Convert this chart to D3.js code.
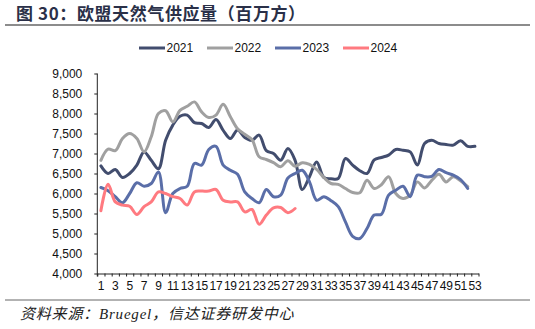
<!DOCTYPE html>
<html>
<head>
<meta charset="utf-8">
<script src="https://cdn.jsdelivr.net/npm/d3@7/dist/d3.min.js"></script>
<style>
  html, body { margin: 0; padding: 0; background: #fff; }
  svg { display: block; }
</style>
</head>
<body>
<svg id="chart" width="535" height="329"></svg>
<script>
// Weekly EU natural gas supply, million cubic metres
const weeks = d3.range(1, 54);
const seriesNames = ["2021", "2022", "2023", "2024"];
const seriesColors = ["#424d6e", "#a0a0a0", "#5a6ea8", "#ff7a80"];

const values2021 = [6690, 6500, 6600, 6400, 6500, 6710, 7040, 6830, 6620, 7330,
  7710, 7930, 7960, 7770, 7750, 7650, 7850, 7580, 7375, 7590,
  7400, 7330, 7460, 7070, 7000, 6830, 7125, 6830, 6100, 6420,
  6790, 6400, 6370, 6375, 6875, 6710, 6570, 6500, 6840, 6900,
  6960, 7100, 7080, 7040, 6710, 7250, 7330, 7250, 7225, 7210,
  7320, 7180, 7180];
const values2022 = [6830, 7110, 7070, 7375, 7500, 7375, 7040, 7420, 8000, 8070,
  7790, 8080, 8180, 8290, 8040, 7900, 7960, 8230, 7920, 7620,
  7480, 7350, 6920, 6850, 6770, 6670, 6820, 6680, 6770, 6730,
  6600, 6400, 6250, 6230, 6125, 6025, 6020, 6330, 6125, 6220,
  6420, 6000, 5875, 5960, 6290, 6140, 6330, 6480, 6290, 6420,
  6320, 6170];
const values2023 = [6150, 6070, 5920, 5770, 6000, 6270, 6180, 6250, 6540, 5520,
  6000, 6125, 6180, 6750, 6710, 7100, 7180, 6710, 6580, 6480,
  6040, 5875, 5770, 6100, 5920, 5960, 6390, 6500, 6580, 6290,
  5830, 5920, 5820, 5670, 5290, 4930, 4875, 5125, 5460, 5480,
  5960, 6080, 6180, 5920, 6460, 6420, 6430, 6600, 6520, 6460,
  6350, 6125];
const values2024 = [5570, 6230, 5790, 5710, 5680, 5475, 5670, 5790, 6040, 6000,
  5920, 5875, 5710, 6040, 6060, 6060, 6100, 5830, 5790, 5790,
  5540, 5600, 5230, 5460, 5640, 5650, 5520, 5625];
const seriesValues = [values2021, values2022, values2023, values2024];

const yTicks = [4000, 4500, 5000, 5500, 6000, 6500, 7000, 7500, 8000, 8500, 9000];
const xLabels = weeks.filter(w => w % 2 === 1);

const titleText = "图 30：欧盟天然气供应量（百万方）";
const sourceText = "资料来源：Bruegel，信达证券研发中心";

const svg = d3.select("#chart");
const plot = { left: 97.3, right: 478.5, top: 73.5, bottom: 273.5 };

const x = d3.scaleBand().domain(weeks).range([plot.left, plot.right]).padding(0);
const xEdges = d3.scaleLinear().domain([0, weeks.length]).range([plot.left, plot.right]);
const y = d3.scaleLinear().domain([4000, 9000]).range([plot.bottom, plot.top]);

// Title and rule beneath it
svg.append("text")
  .attr("x", 16).attr("y", 20)
  .attr("font-family", "'Noto Sans CJK SC', 'Liberation Serif', serif")
  .attr("font-size", 17).attr("font-weight", "bold")
  .attr("letter-spacing", "0.6px")
  .attr("fill", "#2a3048")
  .text(titleText);
svg.append("line")
  .attr("x1", 5).attr("x2", 530).attr("y1", 25).attr("y2", 25)
  .attr("stroke", "#666").attr("stroke-width", 1.3);

// Legend
const legend = svg.append("g").attr("font-family", "'Liberation Sans', Arial, sans-serif")
  .attr("font-size", 12);
seriesNames.forEach((name, i) => {
  const gx = 139 + i * 68;
  legend.append("line")
    .attr("x1", gx).attr("x2", gx + 26).attr("y1", 48).attr("y2", 48)
    .attr("stroke", seriesColors[i]).attr("stroke-width", 3);
  legend.append("text")
    .attr("x", gx + 27.5).attr("y", 52.3)
    .attr("fill", "#111")
    .text(name);
});

// Y axis
const yAxis = svg.append("g")
  .attr("transform", `translate(${plot.left},0)`)
  .call(d3.axisLeft(y).tickValues(yTicks).tickFormat(d3.format(",")).tickSize(3).tickPadding(12));
yAxis.select(".domain").attr("d", `M0,${plot.top}V${plot.bottom + 3}`);

// X axis: tick marks on category edges, labels centred in every other week
const xTickAxis = svg.append("g")
  .attr("transform", `translate(0,${plot.bottom})`)
  .call(d3.axisBottom(xEdges).tickValues(d3.range(0, weeks.length + 1)).tickFormat("").tickSize(3).tickSizeOuter(0));
const xLabelAxis = svg.append("g")
  .attr("transform", `translate(0,${plot.bottom})`)
  .call(d3.axisBottom(x).tickValues(xLabels).tickSize(0).tickPadding(8));
xLabelAxis.select(".domain").remove();

[yAxis, xTickAxis, xLabelAxis].forEach(g => {
  g.selectAll(".domain, .tick line").attr("stroke", "#222").attr("stroke-width", 1);
  g.selectAll("text")
    .attr("font-family", "'Liberation Sans', Arial, sans-serif")
    .attr("font-size", 12).attr("fill", "#111");
});
xLabelAxis.selectAll("text").attr("letter-spacing", "-0.3px");

// Smoothed weekly lines
const line = d3.line()
  .x((d, i) => x(weeks[i]) + x.bandwidth() / 2)
  .y(d => y(d))
  .curve(d3.curveCatmullRom.alpha(0.5));

svg.append("g").selectAll("path")
  .data(seriesValues)
  .join("path")
  .attr("d", d => line(d))
  .attr("fill", "none")
  .attr("stroke", (d, i) => seriesColors[i])
  .attr("stroke-width", 3)
  .attr("stroke-linejoin", "round")
  .attr("stroke-linecap", "round");

// Source note and rule above it
svg.append("line")
  .attr("x1", 5).attr("x2", 530).attr("y1", 300).attr("y2", 300)
  .attr("stroke", "#666").attr("stroke-width", 1);
svg.append("text")
  .attr("x", 20).attr("y", 319)
  .attr("font-family", "'Liberation Serif', 'Noto Sans CJK SC', serif")
  .attr("font-size", 15).attr("font-style", "italic")
  .attr("letter-spacing", "0.8px")
  .attr("fill", "#222")
  .text(sourceText);
</script>
</body>
</html>
